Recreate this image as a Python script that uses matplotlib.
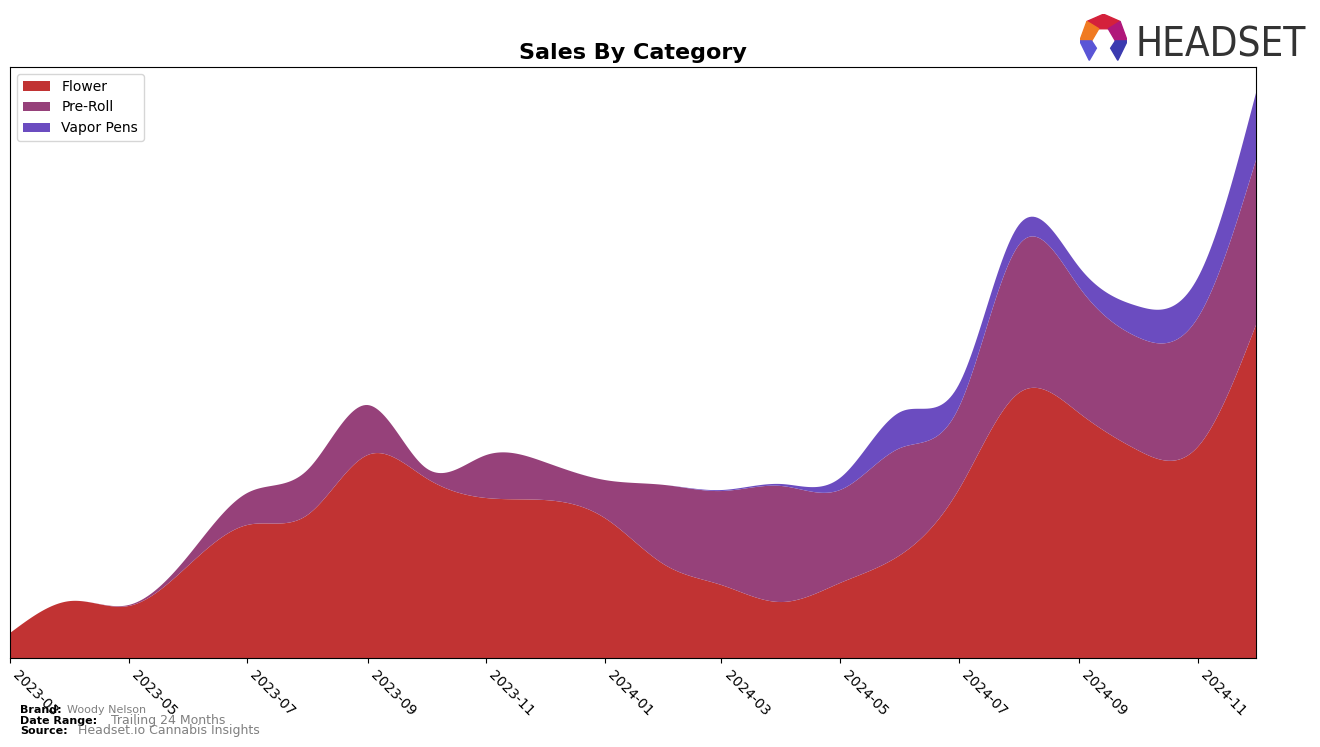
import numpy as np
import pandas as pd
import matplotlib
matplotlib.use("Agg")
import matplotlib.pyplot as plt
import matplotlib.dates as mdates
from matplotlib.patches import Polygon

months = pd.date_range("2023-03-01", "2024-12-01", freq="MS")
flower = [25, 57, 52, 93, 133, 143, 203, 180, 160, 158, 140, 93,
          73, 56, 75, 103, 168, 265, 245, 208, 211, 333]
pre_roll = [0, 0, 1, 10, 32, 45, 50, 10, 43, 38, 38, 80,
            94, 116, 93, 107, 82, 148, 126, 113, 129, 165]
vapor_pens = [0, 0, 0, 0, 0, 0, 0, 0, 0, 0, 0, 0,
              1, 2, 12, 36, 23, 20, 20, 31, 40, 67]
labels = ["Flower", "Pre-Roll", "Vapor Pens"]
colors = ["#C13333", "#96417A", "#6B4CC0"]


def spline(x, y, xs):
    # natural cubic spline, plain numpy
    x = np.asarray(x, float); y = np.asarray(y, float)
    n = len(x)
    h = np.diff(x)
    A = np.zeros((n, n)); r = np.zeros(n)
    A[0, 0] = 1; A[-1, -1] = 1
    for i in range(1, n - 1):
        A[i, i - 1] = h[i - 1]
        A[i, i] = 2 * (h[i - 1] + h[i])
        A[i, i + 1] = h[i]
        r[i] = 3 * ((y[i + 1] - y[i]) / h[i] - (y[i] - y[i - 1]) / h[i - 1])
    c = np.linalg.solve(A, r)
    b = (y[1:] - y[:-1]) / h - h * (2 * c[:-1] + c[1:]) / 3
    d = (c[1:] - c[:-1]) / (3 * h)
    idx = np.clip(np.searchsorted(x, xs) - 1, 0, n - 2)
    t = xs - x[idx]
    return y[idx] + b[idx] * t + c[idx] * t ** 2 + d[idx] * t ** 3


xn = mdates.date2num(months)
xs = np.linspace(xn[0], xn[-1], 600)
series = [np.clip(spline(xn, s, xs), 0, None) for s in (flower, pre_roll, vapor_pens)]

fig = plt.figure(figsize=(13.2, 7.47), dpi=100)
ax = fig.add_axes([0.0076, 0.1191, 0.9439, 0.7912])
ax.stackplot(xs, *series, labels=labels, colors=colors)
ax.set_xlim(xn[0], xn[-1])
ax.set_ylim(0, 591)
ax.set_yticks([])
ax.xaxis.set_major_locator(mdates.MonthLocator(bymonth=[1, 3, 5, 7, 9, 11]))
ax.xaxis.set_major_formatter(mdates.DateFormatter("%Y-%m"))
plt.setp(ax.get_xticklabels(), rotation=-45, ha="left", fontsize=10)
ax.set_title("Sales By Category", fontsize=16, fontweight="bold")
ax.legend(loc="upper left", fontsize=10)

fig.text(0.015, 0.045, "Brand:", fontsize=8, fontweight="bold")
fig.text(0.051, 0.045, "Woody Nelson", fontsize=8, color="gray")
fig.text(0.015, 0.031, "Date Range:", fontsize=8, fontweight="bold")
fig.text(0.084, 0.031, "Trailing 24 Months", fontsize=9, color="gray")
fig.text(0.015, 0.017, "Source:", fontsize=8, fontweight="bold")
fig.text(0.059, 0.017, "Headset.io Cannabis Insights", fontsize=9, color="gray")

# logo
fig.text(0.860, 0.925, "HEADSET", fontsize=29, color="#333333", fontstretch="condensed")
la = fig.add_axes([0.818, 0.916, 0.036, 0.065])
la.set_xlim(0, 1); la.set_ylim(0, 1); la.axis("off")
la.add_patch(Polygon([[0.5, 1], [0.85, 0.85], [0.6, 0.7], [0.4, 0.7], [0.15, 0.85]], color="#D4213B"))
la.add_patch(Polygon([[0.85, 0.85], [1, 0.45], [0.75, 0.45], [0.6, 0.7]], color="#B0177A"))
la.add_patch(Polygon([[0.15, 0.85], [0.4, 0.7], [0.25, 0.45], [0, 0.45]], color="#F07A22"))
la.add_patch(Polygon([[0, 0.45], [0.25, 0.45], [0.35, 0.3], [0.2, 0.05]], color="#5A55D6"))
la.add_patch(Polygon([[1, 0.45], [0.75, 0.45], [0.65, 0.3], [0.8, 0.05]], color="#3B3BB0"))

fig.savefig("out.png", dpi=100)
